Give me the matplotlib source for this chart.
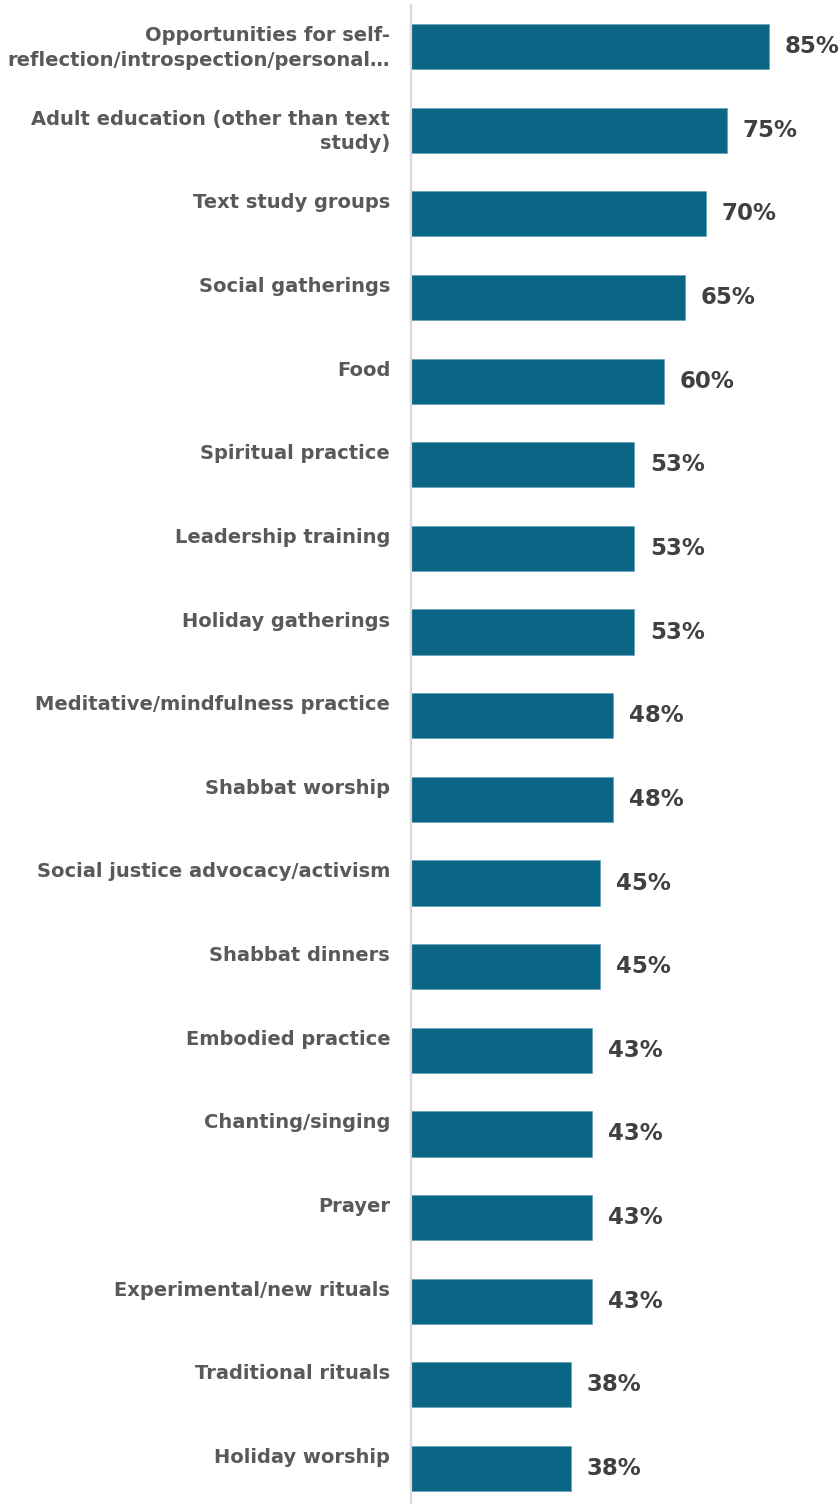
import matplotlib.pyplot as plt

activities = [
    "Opportunities for self-\nreflection/introspection/personal\u2026",
    "Adult education (other than text\nstudy)",
    "Text study groups",
    "Social gatherings",
    "Food",
    "Spiritual practice",
    "Leadership training",
    "Holiday gatherings",
    "Meditative/mindfulness practice",
    "Shabbat worship",
    "Social justice advocacy/activism",
    "Shabbat dinners",
    "Embodied practice",
    "Chanting/singing",
    "Prayer",
    "Experimental/new rituals",
    "Traditional rituals",
    "Holiday worship",
]
pct = [85, 75, 70, 65, 60, 53, 53, 53, 48, 48, 45, 45, 43, 43, 43, 43, 38, 38]

bar_color = "#0b6685"
bar_h = 0.54

fig = plt.figure(figsize=(8.4, 15.04), dpi=100)
ax = fig.add_axes([411 / 840, 0, 421 / 840, 1 - 4.7 / 1504])

ypos = list(range(len(pct)))
ax.barh(ypos, pct, height=bar_h, color=bar_color, edgecolor="#5a9bb3", linewidth=0.4)

ax.set_xlim(0, 100)
ax.set_ylim(17.424, -0.5)

for s in ["top", "right", "bottom"]:
    ax.spines[s].set_visible(False)
ax.spines["left"].set_color("#d9d9d9")
ax.spines["left"].set_linewidth(1.6)
ax.set_xticks([])
ax.set_yticks([])

for y, (name, v) in enumerate(zip(activities, pct)):
    # category label, top-aligned with its bar
    ax.annotate(name, xy=(0, y - bar_h / 2), xytext=(-15, -1.5),
                textcoords="offset points", ha="right", va="top",
                fontsize=14, fontweight="bold", color="#595959",
                family="DejaVu Sans", linespacing=1.38,
                annotation_clip=False)
    # value label just past the bar end
    ax.annotate(f"{v}%", xy=(v, y), xytext=(11.5, 0),
                textcoords="offset points", ha="left", va="center",
                fontsize=16.5, fontweight="bold", color="#404040",
                family="DejaVu Sans", annotation_clip=False)

fig.savefig("out.png", dpi=100)
